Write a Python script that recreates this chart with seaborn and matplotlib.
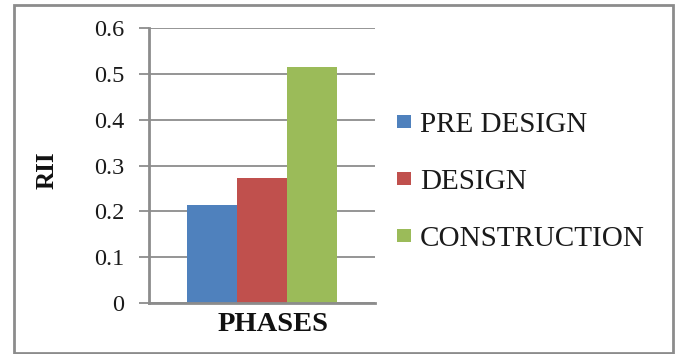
import matplotlib
matplotlib.use("Agg")
import matplotlib.pyplot as plt
from matplotlib.patches import Rectangle
import seaborn as sns
import pandas as pd

# Data
phases = ["PRE DESIGN", "DESIGN", "CONSTRUCTION"]
rii_values = [0.213, 0.273, 0.516]
x_category = ["PHASES", "PHASES", "PHASES"]
colors = ["#4F81BD", "#C0504D", "#9BBB59"]
y_ticks = [0, 0.1, 0.2, 0.3, 0.4, 0.5, 0.6]
y_tick_labels = ["0", "0.1", "0.2", "0.3", "0.4", "0.5", "0.6"]

df = pd.DataFrame({"cat": x_category, "phase": phases, "RII": rii_values})

sns.set_theme(style="white")
plt.rcParams["font.family"] = ["Liberation Serif", "DejaVu Serif"]

W, H = 681, 354
fig = plt.figure(figsize=(W / 100, H / 100), dpi=100)
ax = fig.add_axes([149.3 / W, 1 - 302.7 / H, (375 - 149.3) / W, (302.7 - 28.3) / H])

sns.barplot(data=df, x="cat", y="RII", hue="phase", hue_order=phases,
            palette=colors, width=0.8, ax=ax, saturation=1, legend=False,
            edgecolor="none", linewidth=0)

ax.set_xlim(-0.8 / 0.664 / 2, 0.8 / 0.664 / 2)
ax.set_ylim(0, 0.6)
ax.set_yticks(y_ticks)
ax.set_yticklabels(y_tick_labels, fontsize=17.5, color="#1a1a1a")
ax.set_xticks([])
ax.yaxis.grid(True, color="#8c8c8c", linewidth=1.3)
ax.set_axisbelow(True)
for s in ["top", "right"]:
    ax.spines[s].set_visible(False)
ax.spines["left"].set_color("#8c8c8c")
ax.spines["left"].set_linewidth(2)
ax.spines["bottom"].set_color("#8c8c8c")
ax.spines["bottom"].set_linewidth(2)
ax.tick_params(axis="y", which="major", left=True, length=7.2, width=1.3,
               color="#8c8c8c", pad=11)

ax.set_xlabel("PHASES", fontsize=20.5, fontweight="bold", color="#111111")
ax.xaxis.set_label_coords((273 - 149.3) / (375 - 149.3), -(324.5 - 302.7) / (302.7 - 28.3))
ax.xaxis.label.set_va("center")
ax.set_ylabel("RII", fontsize=18, fontweight="bold", color="#111111")
ax.yaxis.set_label_coords((47 - 149.3) / (375 - 149.3), (302.7 - 170) / (302.7 - 28.3))
ax.yaxis.label.set_va("center")

# Legend
fs = 21
fs_px = fs / 72 * 100
handles = [Rectangle((0, 0), 1, 1, facecolor=c, edgecolor="none") for c in colors]
fig.legend(handles, phases, loc="center left",
           bbox_to_anchor=(397 / W, 1 - 182 / H), frameon=False,
           prop={"size": fs}, handlelength=14 / fs_px, handleheight=9 / fs_px,
           handletextpad=9 / fs_px, labelspacing=(56 - fs_px * 0.86) / fs_px,
           borderpad=0, borderaxespad=0, labelcolor="#1a1a1a")

# Figure border
fig.patches.append(Rectangle((14 / W, 1 - 352.7 / H), (673.3 - 14) / W, (352.7 - 4.7) / H,
                             transform=fig.transFigure, fill=False,
                             edgecolor="#8c8c8c", linewidth=2))

fig.savefig("out.png", dpi=100)
